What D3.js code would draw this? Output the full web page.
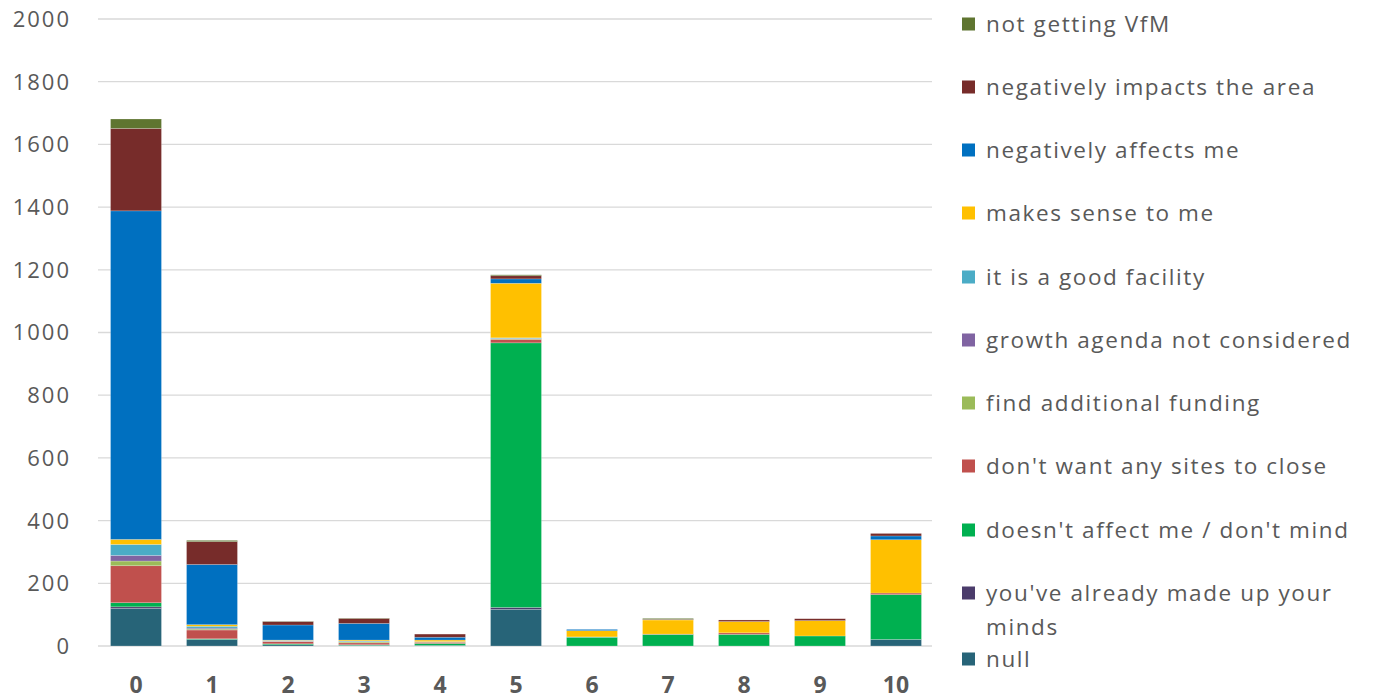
<!DOCTYPE html>
<html><head><meta charset="utf-8">
<script src="https://cdn.jsdelivr.net/npm/d3@7"></script>
<style>body{margin:0;background:#fff;} svg{display:block;}</style>
</head><body>
<svg id="chart" width="1373" height="699"></svg>
<script>
const categories = ["0","1","2","3","4","5","6","7","8","9","10"];
const seriesNames = ["null","you've already made up your minds","doesn't affect me / don't mind","don't want any sites to close","find additional funding","growth agenda not considered","it is a good facility","makes sense to me","negatively affects me","negatively impacts the area","not getting VfM"];
const seriesColors = ["#276478","#4b3c6b","#00b050","#c0504d","#9bbb59","#8064a2","#4bacc6","#ffc000","#0070c0","#772c2a","#5f7530"];
const nullVals      = [120, 21, 4, 2, 2, 117, 0, 0, 0, 0, 21];
const madeUpVals    = [5, 0, 0, 0, 0, 6, 0, 0, 0, 0, 0];
const noMindVals    = [13, 2, 3, 2, 6, 844, 28, 37, 37, 32, 143];
const noCloseVals   = [118, 28, 7, 6, 4, 11, 0, 1, 5, 0, 5];
const fundingVals   = [15, 3, 1, 3, 1, 2, 0, 0, 0, 0, 0];
const growthVals    = [18, 3, 1, 1, 0, 1, 0, 0, 0, 0, 0];
const facilityVals  = [35, 6, 2, 2, 1, 2, 1, 0, 0, 0, 0];
const senseVals     = [16, 5, 1, 3, 5, 174, 20, 45, 36, 49, 170];
const affectsVals   = [1048, 192, 48, 53, 9, 14, 4, 0, 0, 0, 12];
const impactsVals   = [263, 73, 11, 16, 10, 10, 0, 2, 5, 6, 8];
const vfmVals       = [30, 4, 1, 1, 0, 3, 0, 3, 0, 0, 0];
const yTicks = [0,200,400,600,800,1000,1200,1400,1600,1800,2000];

const seriesVals = [nullVals, madeUpVals, noMindVals, noCloseVals, fundingVals, growthVals, facilityVals, senseVals, affectsVals, impactsVals, vfmVals];
const table = categories.map((c,i)=>{ const o={cat:c}; seriesNames.forEach((s,j)=>o[s]=seriesVals[j][i]); return o; });

const svg = d3.select("#chart");
const FONT = "'Open Sans', sans-serif";
const x = d3.scaleBand().domain(categories).range([98,934]).paddingInner(0.33).paddingOuter(0.165);
const y = d3.scaleLinear().domain([0,2000]).range([646,19]);

svg.append("g").selectAll("line").data(yTicks).join("line")
  .attr("x1",98).attr("x2",932).attr("y1",d=>y(d)).attr("y2",d=>y(d))
  .attr("stroke","#d9d9d9").attr("stroke-width",1.3);

svg.append("g").selectAll("text").data(yTicks).join("text")
  .attr("x",71).attr("y",d=>y(d)).attr("dy","0.36em").attr("text-anchor","end")
  .attr("font-family",FONT).attr("font-size",22).attr("letter-spacing",2).attr("fill","#595959")
  .text(d=>d);

const stack = d3.stack().keys(seriesNames)(table);
svg.append("g").selectAll("g").data(stack).join("g")
  .attr("fill",(d,i)=>seriesColors[i])
  .selectAll("rect").data(d=>d).join("rect")
  .attr("x",d=>x(d.data.cat)).attr("width",x.bandwidth())
  .attr("y",d=>y(d[1])).attr("height",d=>Math.max(0,y(d[0])-y(d[1])))
  .attr("stroke","#ffffff").attr("stroke-opacity",0.35).attr("stroke-width",0.6);

svg.append("g").selectAll("text").data(categories).join("text")
  .attr("x",d=>x(d)+x.bandwidth()/2).attr("y",685).attr("dy","0.36em").attr("text-anchor","middle")
  .attr("font-family",FONT).attr("font-weight","bold").attr("font-size",23).attr("fill","#595959")
  .text(d=>d);

const legendItems = seriesNames.map((s,i)=>({name:s,color:seriesColors[i]})).reverse();
const legendY = [24,87,150,213,277,340,403,466,530,593,659];
const lg = svg.append("g");
legendItems.forEach((it,i)=>{
  const g = lg.append("g").attr("transform",`translate(962,${legendY[i]})`);
  g.append("rect").attr("x",0).attr("y",-6.5).attr("width",13).attr("height",13).attr("fill",it.color);
  const t = g.append("text").attr("x",24).attr("y",0).attr("dy","0.36em")
    .attr("font-family",FONT).attr("font-size",22.5).attr("letter-spacing",1.6).attr("fill","#595959");
  if(it.name.startsWith("you've")){
    t.append("tspan").attr("x",24).text("you've already made up your");
    t.append("tspan").attr("x",24).attr("dy",34).text("minds");
  } else t.text(it.name);
});
</script>
</body></html>
